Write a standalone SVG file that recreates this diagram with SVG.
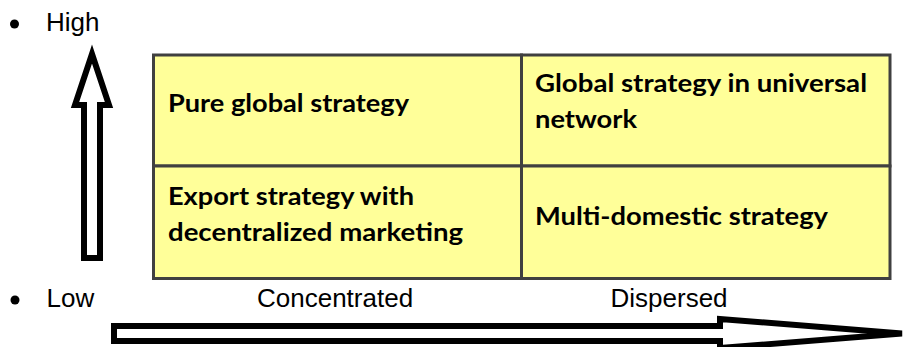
<svg xmlns="http://www.w3.org/2000/svg" width="907" height="347" viewBox="0 0 907 347">
<style>
.cell{fill:#FFFF99;stroke:#404040;stroke-width:3}
.ct{font-family:Lato,"Open Sans","Liberation Sans",sans-serif;font-weight:bold;font-size:25px;fill:#000}
.ax{font-family:"Liberation Sans",Arial,sans-serif;font-size:26px;fill:#000}
.arr{fill:#fff;stroke:#000;stroke-width:6;stroke-linejoin:miter;stroke-miterlimit:10}
</style>
<rect width="907" height="347" fill="#fff"/>
<g id="labels">
<circle cx="14.5" cy="24" r="4.5" fill="#000"/>
<text class="ax" x="46" y="31">High</text>
<circle cx="15" cy="300" r="4.5" fill="#000"/>
<text class="ax" x="46.5" y="307">Low</text>
<text class="ax" x="257" y="307">Concentrated</text>
<text class="ax" x="610.5" y="307">Dispersed</text>
</g>
<g id="connectors">
<polygon class="arr" points="92,54 109,105 100,105 100,258 84,258 84,105 75,105"/>
<polygon class="arr" points="114,326 720,326 720,319 902,333.5 720,348 720,341 114,341"/>
</g>
<g id="cell-pure-global">
<rect class="cell" x="153.5" y="55" width="368" height="111"/>
<text class="ct" x="168" y="111.5" textLength="241" lengthAdjust="spacingAndGlyphs">Pure global strategy</text>
</g>
<g id="cell-global-universal">
<rect class="cell" x="521.5" y="55" width="368.5" height="111"/>
<text class="ct" x="535" y="92" textLength="332" lengthAdjust="spacingAndGlyphs">Global strategy in universal</text>
<text class="ct" x="535" y="128" textLength="102" lengthAdjust="spacingAndGlyphs">network</text>
</g>
<g id="cell-export">
<rect class="cell" x="153.5" y="166" width="368" height="112.5"/>
<text class="ct" x="168" y="205" textLength="246" lengthAdjust="spacingAndGlyphs">Export strategy with</text>
<text class="ct" x="168" y="241" textLength="295" lengthAdjust="spacingAndGlyphs">decentralized marketing</text>
</g>
<g id="cell-multi-domestic">
<rect class="cell" x="521.5" y="166" width="368.5" height="112.5"/>
<text class="ct" x="535" y="225" textLength="293" lengthAdjust="spacingAndGlyphs">Multi-domestic strategy</text>
</g>
</svg>
